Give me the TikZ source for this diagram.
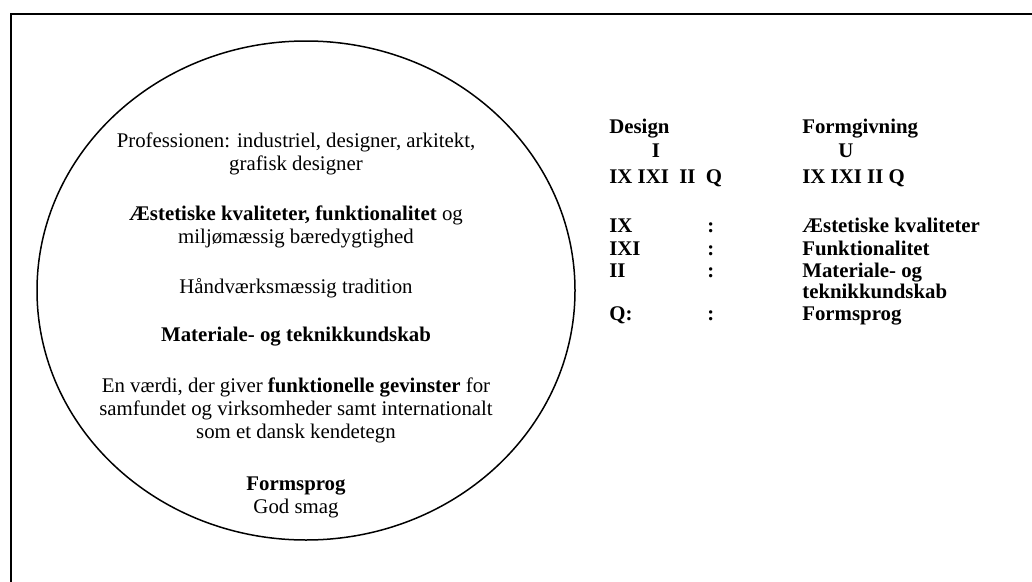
\documentclass[tikz,border=0pt]{standalone}
\usepackage{fontspec}
\setmainfont{Liberation Serif}
\usetikzlibrary{positioning,shapes.geometric}

\begin{document}
\begin{tikzpicture}[x=0.6pt,y=-0.6pt,
  txt/.style={inner sep=0pt,align=center,font=\fontsize{12.5}{13.8}\selectfont},
  lbl/.style={inner sep=0pt,anchor=base west,font=\fontsize{12.5}{13.8}\selectfont\bfseries}]
\useasboundingbox (0,0) rectangle (1032,581);
% frame, only top and left edge inside the page
\draw[line width=1.2pt] (11,700) -- (11,14) -- (1100,14);

% the circle
\node[draw,ellipse,line width=0.9pt,minimum width=322.8pt,minimum height=299.4pt] (ring) at (306,290.5) {};
\node[txt] (prof) at (296,154) {Professionen: industriel, designer, arkitekt,\\grafisk designer};
\node[txt] (aest) at (296,227) {\textbf{Æstetiske kvaliteter, funktionalitet} og\\miljømæssig bæredygtighed};
\node[txt] (hand) at (296,288) {Håndværksmæssig tradition};
\node[txt] (mat) at (296,337) {\textbf{Materiale- og teknikkundskab}};
\node[txt] (vaerdi) at (296,410) {En værdi, der giver \textbf{funktionelle gevinster} for\\samfundet og virksomheder samt internationalt\\som et dansk kendetegn};
\node[txt] (form) at (296,497) {\textbf{Formsprog}\\God smag};

% right side
\node[lbl] (design) at (609,133) {Design};
\node[lbl] (formg) at (802,133) {Formgivning};
\node[lbl,anchor=base] (i) at (656,157) {I};
\node[lbl,anchor=base] (u) at (846,157) {U};
\node[lbl] (rowA) at (609,183) {IX IXI\ \ II\ \ Q};
\node[lbl] (rowB) at (802,183) {IX IXI II Q};

\foreach \y/\k/\v [count=\n] in {232/IX/Æstetiske kvaliteter,255/IXI/Funktionalitet,277/II/Materiale- og,320/Q:/Formsprog} {
  \node[lbl] (key\n) at (609,\y) {\k};
  \node[lbl] (col\n) at (707,\y) {:};
  \node[lbl] (val\n) at (802,\y) {\v};
}
\node[lbl] (val5) at (802,298) {teknikkundskab};
\end{tikzpicture}
\end{document}
